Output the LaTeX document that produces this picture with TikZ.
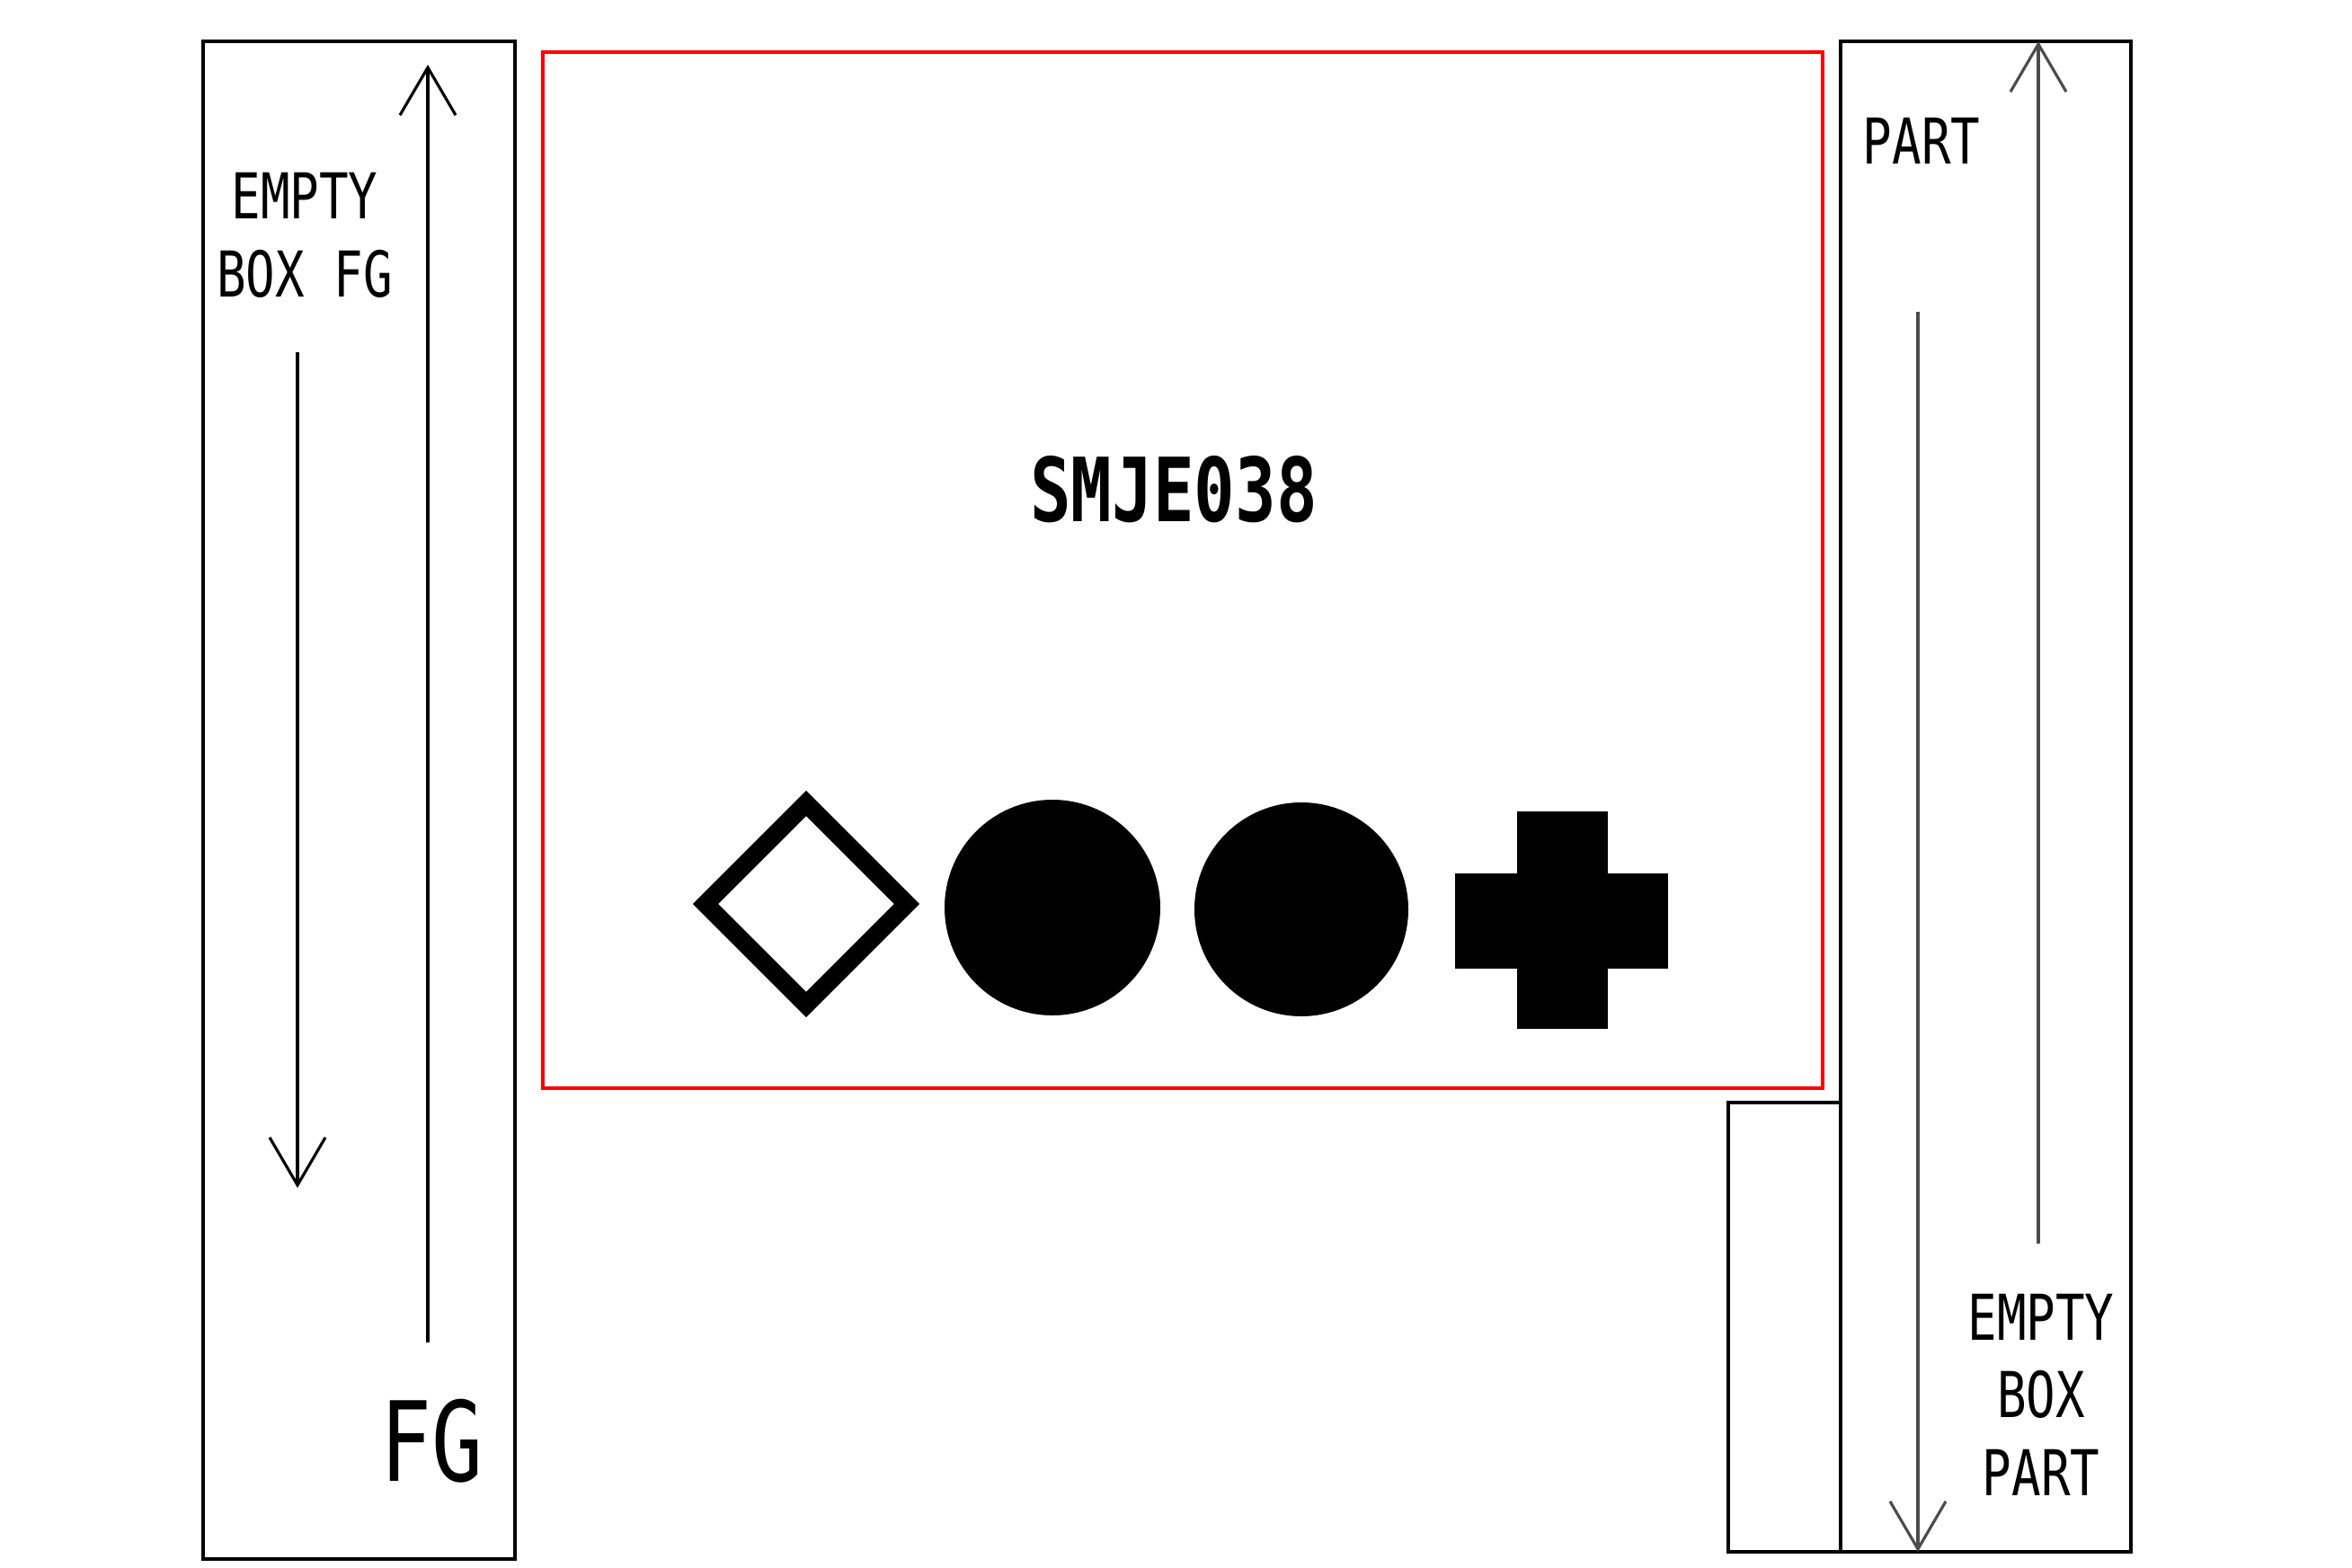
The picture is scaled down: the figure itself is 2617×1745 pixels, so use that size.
\documentclass[tikz,border=0pt]{standalone}
\usepackage{fontspec}
\usetikzlibrary{arrows.meta}
\newfontfamily\gothic[FakeStretch=0.77]{DejaVu Sans Mono}

\tikzset{
    boxline/.style={line width=0.9pt},
    barb/.style={line width=0.9pt, -{Straight Barb[length=0.53cm, width=0.62cm]}},
    lbl/.style={font=\gothic\fontsize{20}{24.5}\selectfont, align=center, anchor=base, inner sep=0pt},
}

\begin{document}
\begin{tikzpicture}[x=0.01cm, y=-0.01cm]
    \useasboundingbox (0,0) rectangle (2617,1745);

    % Left box
    \draw[boxline] (226,46) rectangle (573,1735);
    \draw[barb] (476,1494) -- (476,72);
    \draw[barb] (331,392) -- (331,1322);
    \node[lbl] (fgnote) at (339,330) {EMPTY\\BOX FG};
    \node[lbl, font=\gothic\fontsize{35}{40}\selectfont] (fg) at (481,1648) {FG};

    % Label frame
    \draw[red, boxline] (604,58) rectangle (2028,1211);
    \node[lbl, font=\gothic\bfseries\fontsize{28}{32}\selectfont] (code) at (1306,580) {SMJE038};

    % Symbols
    \draw[line width=0.2cm, miter limit=10] (897,894) -- (1009,1006) -- (897,1118) -- (785,1006) -- cycle;
    \fill (1171,1010) circle (120);
    \fill (1448,1012) circle (119);
    \fill (1688,903) rectangle (1789,1145);
    \fill (1619,972) rectangle (1856,1078);

    % Right boxes
    \draw[boxline] (2048,46) rectangle (2371,1727);
    \draw[boxline] (1923,1227) rectangle (2048,1727);
    \draw[barb, black!70] (2268,1384) -- (2268,46);
    \draw[barb, black!70] (2134,347) -- (2134,1727);
    \node[lbl] (part) at (2138,182) {PART};
    \node[lbl] (partnote) at (2271,1664) {EMPTY\\BOX\\PART};
\end{tikzpicture}
\end{document}
